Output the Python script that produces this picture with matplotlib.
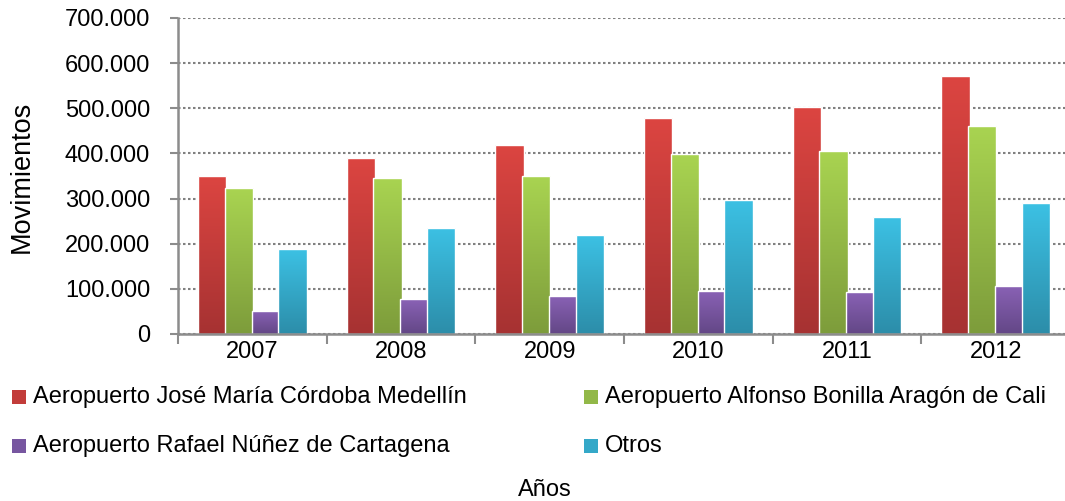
import numpy as np
import matplotlib
matplotlib.use("Agg")
import matplotlib.pyplot as plt
from matplotlib.colors import LinearSegmentedColormap
from matplotlib.patches import Rectangle

# ----------------------------------------------------------------------
# data
# ----------------------------------------------------------------------
years = ["2007", "2008", "2009", "2010", "2011", "2012"]
series_names = ["Aeropuerto José María Córdoba Medellín",
                "Aeropuerto Alfonso Bonilla Aragón de Cali",
                "Aeropuerto Rafael Núñez de Cartagena",
                "Otros"]
medellin = [350000, 390000, 419000, 478000, 503000, 571000]
cali = [323000, 346000, 351000, 399000, 406000, 461000]
cartagena = [51000, 77000, 85000, 96000, 94000, 107000]
otros = [188000, 235000, 219000, 297000, 259000, 290000]

# gradient colors (top, bottom)
top_colors = ["#DC4541", "#A9D451", "#8A62B6", "#3CC1E4"]
bot_colors = ["#A63232", "#7D9C3B", "#634786", "#2C8DA9"]

plt.rcParams['font.family'] = ['Liberation Sans', 'DejaVu Sans']
fs = 17

fig = plt.figure(figsize=(10.65, 5.01), dpi=100)
W, H = 1065.0, 501.0
ax = fig.add_axes([178 / W, 1 - 334 / H, (1070 - 178) / W, (334 - 18) / H])

values = [medellin, cali, cartagena, otros]
x = np.arange(len(years)) + 0.5
width = 0.19
offsets = [-0.27, -0.09, 0.09, 0.27]

grad = np.linspace(1, 0, 256).reshape(-1, 1)
for k, vals in enumerate(values):
    cmap = LinearSegmentedColormap.from_list("g%d" % k, [bot_colors[k], top_colors[k]])
    bars = ax.bar(x + offsets[k], vals, width, color=bot_colors[k],
                  edgecolor="none", zorder=2 + k)
    for r in bars:
        x0, y0 = r.get_x(), r.get_y()
        w, h = r.get_width(), r.get_height()
        im = ax.imshow(grad, cmap=cmap, aspect="auto",
                       extent=[x0, x0 + w, y0, y0 + h], zorder=2 + k + 0.1)
        im.set_clip_path(r)
        ax.add_patch(Rectangle((x0, y0), w, h, facecolor="none",
                               edgecolor="white", lw=1.0, zorder=2 + k + 0.2))

ax.set_xlim(0, len(years))
ax.set_ylim(0, 700000)

ax.set_yticks(np.arange(0, 700001, 100000))
ax.set_yticklabels([f"{int(v):,}".replace(",", ".") for v in np.arange(0, 700001, 100000)])
ax.yaxis.grid(True, linestyle=(0, (1.2, 1.2)), color="#808080", lw=1.5, zorder=1)
ax.set_axisbelow(True)

ax.set_xticks(np.arange(0, len(years) + 1))
ax.set_xticklabels([])
ax.set_xticks(x, minor=True)
ax.set_xticklabels(years, minor=True)
ax.tick_params(axis="x", which="major", length=7, width=1.5, color="#8C8C8C")
ax.tick_params(axis="x", which="minor", length=0, pad=5, labelsize=fs)
ax.tick_params(axis="y", length=6, width=1.5, color="#8C8C8C", pad=14, labelsize=fs)

for s in ["top", "right"]:
    ax.spines[s].set_visible(False)
for s in ["left", "bottom"]:
    ax.spines[s].set_color("#8C8C8C")
    ax.spines[s].set_linewidth(1.8)
    ax.spines[s].set_zorder(10)

fig.text(22 / W, 1 - 177 / H, "Movimientos", rotation=90, ha="center", va="center", fontsize=19.5)
fig.text(545 / W, 1 - 490 / H, "Años", ha="center", va="center", fontsize=fs)

# legend
leg_colors = ["#C23C3A", "#92B848", "#7756A0", "#34A8C8"]
leg_x = [12, 584]
leg_y = [397, 446]
for k, name in enumerate(series_names):
    lx = leg_x[k % 2]
    ly = leg_y[k // 2]
    fig.patches.append(Rectangle((lx / W, 1 - (ly + 7) / H), 14 / W, 14 / H,
                                 facecolor=leg_colors[k], edgecolor="none",
                                 transform=fig.transFigure, figure=fig))
    fig.text((lx + 21) / W, 1 - ly / H, name, ha="left", va="center", fontsize=fs)

fig.savefig("out.png", dpi=100)
